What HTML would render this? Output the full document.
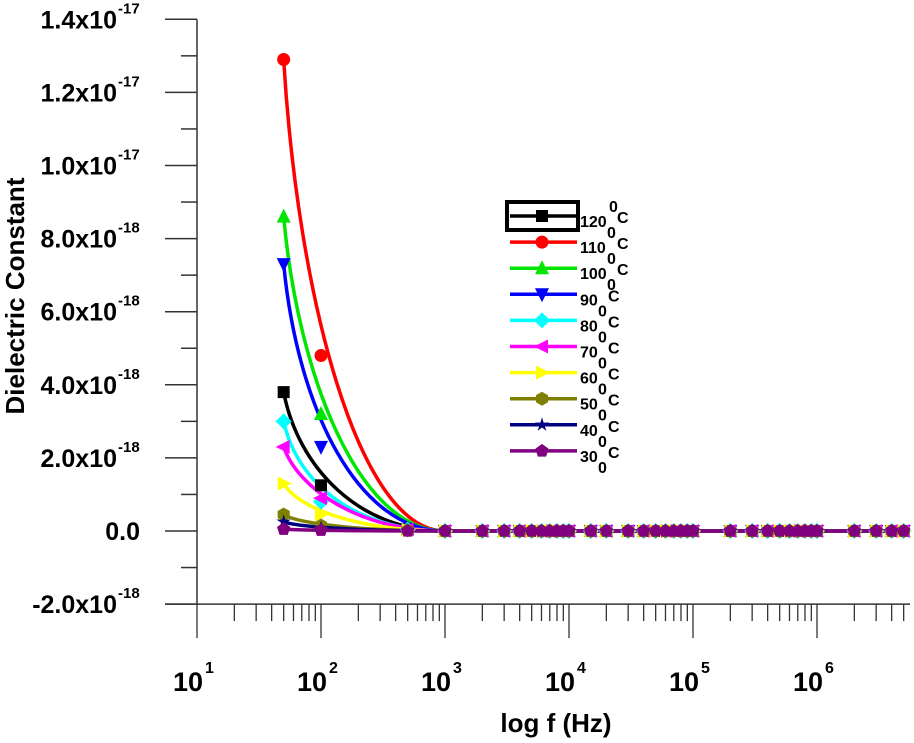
<!DOCTYPE html>
<html><head><meta charset="utf-8"><style>
body{margin:0;background:#fff}
svg{display:block;font-family:"Liberation Sans",Arial,sans-serif;font-weight:bold}
</style></head><body>
<svg id="chart" width="914" height="743" viewBox="0 0 914 743" xmlns="http://www.w3.org/2000/svg">
<g id="axes"></g>
<g id="series"></g>
<g id="legend"></g>
<text x="556" y="732" font-size="26" text-anchor="middle">log f (Hz)</text>
<text transform="translate(24,296) rotate(-90)" font-size="26" text-anchor="middle">Dielectric Constant</text>
</svg>
<script>
const seriesNames=["120","110","100","90","80","70","60","50","40","30"];
const colors=["#000000","#ff0000","#00e600","#0000ff","#00ffff","#ff00ff","#ffff00","#808000","#000080","#800080"];
const markers=["square","circle","up","down","diamond","left","right","hexagon","star","pentagon"];
const freqs=[50,100,500,1000,2000,3000,4000,5000,6000,7000,8000,9000,10000,15000,20000,30000,40000,50000,60000,70000,80000,90000,100000,200000,300000,400000,500000,600000,700000,800000,900000,1000000,2000000,3000000,4000000,5000000];
const v120=[3.8,1.25,0.05,0];
const v110=[12.9,4.8,0.05,0];
const v100=[8.6,3.2,0.05,0];
const v90=[7.3,2.3,0.05,0];
const v80=[3.0,0.8,0.04,0];
const v70=[2.3,0.9,0.04,0];
const v60=[1.3,0.45,0.03,0];
const v50=[0.45,0.15,0.02,0];
const v40=[0.25,0.08,0.01,0];
const v30=[0.05,0.02,0,0];
const allVals=[v120,v110,v100,v90,v80,v70,v60,v50,v40,v30];
const yTicks=[-2,0,2,4,6,8,10,12,14];
const yLabels=["-2.0x10","0.0","2.0x10","4.0x10","6.0x10","8.0x10","1.0x10","1.2x10","1.4x10"];
const yExp=["-18","","-18","-18","-18","-18","-17","-17","-17"];
const xDecades=[1,2,3,4,5,6];

const X0=197,XR=910,DEC=124,Y0=531,PY=36.55;
const xs=f=>X0+(Math.log10(f)-1)*DEC;
const ys=v=>Y0-v*PY;
const NS="http://www.w3.org/2000/svg";
function mk(tag,attrs,parent){const e=document.createElementNS(NS,tag);for(const k in attrs)e.setAttribute(k,attrs[k]);parent.appendChild(e);return e;}
const axes=document.getElementById('axes');
const yb=ys(-2);
let e=mk('line',{x1:X0,y1:ys(14),x2:X0,y2:yb,stroke:'#333','stroke-width':1.5},axes);

e=mk('line',{x1:165,y1:yb,x2:XR,y2:yb,stroke:'#333','stroke-width':1.5},axes);

for(let v=-2;v<=14;v++){
  const major=v%2===0;
  e=mk('line',{x1:major?165:181,y1:ys(v),x2:X0,y2:ys(v),stroke:'#333','stroke-width':1.5},axes);
  
}
yTicks.forEach((v,i)=>{
  const t=mk('text',{x:yExp[i]?117:140,y:ys(v)+9,'font-size':25,'text-anchor':'end'},axes);
  t.textContent=yLabels[i];
  
  if(yExp[i]){const s=mk('text',{x:118,y:ys(v)-6,'font-size':15},axes);s.textContent=yExp[i];
  }
});
for(let d=1;d<=6;d++){for(let m=1;m<=9;m++){
  const x=xs(m*Math.pow(10,d)); if(x>XR)break;
  e=mk('line',{x1:x,y1:yb,x2:x,y2:m===1?yb+34:yb+17,stroke:'#333','stroke-width':1.3},axes);
  
}}
xDecades.forEach(d=>{
  const x=xs(Math.pow(10,d));
  const t=mk('text',{x:x+6,y:691,'font-size':27,'text-anchor':'end'},axes);t.textContent='10';
  
  const s=mk('text',{x:x+8,y:673,'font-size':16},axes);s.textContent=String(d);
  
});
function marker(type,cx,cy,r,color,parent){
  let el;const P=pts=>pts.map(p=>p.join(',')).join(' ');
  if(type==='square')el=mk('rect',{x:cx-r,y:cy-r,width:2*r,height:2*r},parent);
  else if(type==='circle')el=mk('circle',{cx,cy,r:r+0.5},parent);
  else if(type==='up')el=mk('polygon',{points:P([[cx,cy-r-2],[cx+r+1,cy+r],[cx-r-1,cy+r]])},parent);
  else if(type==='down')el=mk('polygon',{points:P([[cx,cy+r+2],[cx+r+1,cy-r],[cx-r-1,cy-r]])},parent);
  else if(type==='left')el=mk('polygon',{points:P([[cx-r-2,cy],[cx+r,cy-r-1],[cx+r,cy+r+1]])},parent);
  else if(type==='right')el=mk('polygon',{points:P([[cx+r+2,cy],[cx-r,cy-r-1],[cx-r,cy+r+1]])},parent);
  else if(type==='diamond')el=mk('polygon',{points:P([[cx,cy-r-2],[cx+r+2,cy],[cx,cy+r+2],[cx-r-2,cy]])},parent);
  else{let n=type==='hexagon'?6:5,pts=[];
    if(type==='star'){for(let i=0;i<10;i++){const a=-Math.PI/2+i*Math.PI/5,rr=i%2?r*0.45:r+1.5;pts.push([cx+rr*Math.cos(a),cy+rr*Math.sin(a)]);}}
    else for(let i=0;i<n;i++){const a=-Math.PI/2+i*2*Math.PI/n;pts.push([cx+(r+1)*Math.cos(a),cy+(r+1)*Math.sin(a)]);}
    el=mk('polygon',{points:P(pts)},parent);}
  el.setAttribute('fill',color);return el;
}
const sg=document.getElementById('series');
const lineG=mk('g',{},sg);
const markG=mk('g',{},sg);
for(let si=0;si<allVals.length;si++){
  const a=allVals[si];
  const vals=freqs.map((f,i)=>i<a.length?a[i]:0);
  // smooth decay fit from first point to the 1 kHz point, then flat
  const x0=xs(freqs[0]),y0=ys(a[0]),y1=ys(a[1]),x3=xs(freqs[3]),y3=ys(a[3]);
  const d=`M${x0},${y0} C${xs(65)},${y0+0.8*(y1-y0)} ${xs(200)},${y3} ${x3},${y3} L${XR},${ys(0)}`;
  const ln=mk('path',{d,fill:'none',stroke:colors[si],'stroke-width':3.5},lineG);
  
  
  freqs.forEach((f,i)=>{const x=xs(f);if(x>XR+8)return;
    const m=marker(markers[si],x,ys(vals[i]),6,colors[si],markG);
    
    });
}
const lg=document.getElementById('legend');
e=mk('rect',{x:507,y:202,width:71,height:28,fill:'none',stroke:'#000','stroke-width':4},lg);

const s0=mk('text',{x:609,y:212,'font-size':16},lg);s0.textContent='0';

seriesNames.forEach((n,i)=>{
  const y=216+i*26.1;
  const g=mk('g',{},lg);
  
  
  mk('line',{x1:510,y1:y,x2:577,y2:y,stroke:colors[i],'stroke-width':3.5},g);
  marker(markers[i],542,y,6,colors[i],g);
  const t=mk('text',{x:580,y:y+11,'font-size':16},g);t.textContent=n;
  const w=n.length===3?27:18;
  const s=mk('text',{x:580+w,y:y+22,'font-size':16},g);s.textContent='0';
  const c=mk('text',{x:580+w+10,y:y+7,'font-size':16},g);c.textContent='C';
});
</script>
</body></html>
